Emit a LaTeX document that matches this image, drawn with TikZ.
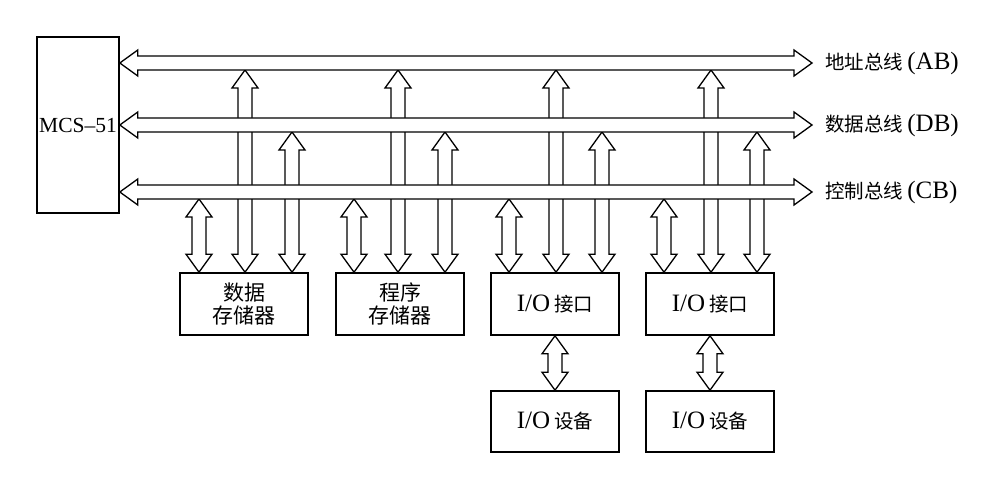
\documentclass[tikz,border=0pt]{standalone}
\usepackage{fontspec}
\setmainfont{Liberation Serif}
\newfontfamily\cjk{Noto Sans CJK SC}
\usetikzlibrary{calc}
\newcommand\zh[1]{{\cjk\fontsize{19.5}{24}\selectfont #1}}
\newcommand\zhbig[1]{{\cjk\fontsize{21}{24}\selectfont #1}}
\tikzset{
  hollow/.style={draw=black, fill=white, line width=1.3pt, line join=miter},
  box/.style={draw=black, line width=1.6pt, fill=white, minimum width=128pt,
    minimum height=62pt, inner sep=0pt, align=center,
    font=\fontsize{25}{24}\selectfont},
  buslabel/.style={anchor=west, inner sep=0pt, font=\fontsize{25}{24}\selectfont},
}
% vertical hollow double arrow: #1 x, #2 top coordinate, #3 bottom coordinate, #4 offset below top
\newcommand\vconn[4]{%
  \path[hollow] let \p1=(#2), \p2=(#3) in
    (#1pt,\y1-#4) -- (#1pt+13pt,\y1-#4-18pt) -- (#1pt+7pt,\y1-#4-18pt)
    -- (#1pt+7pt,\y2+18pt) -- (#1pt+13pt,\y2+18pt) -- (#1pt,\y2)
    -- (#1pt-13pt,\y2+18pt) -- (#1pt-7pt,\y2+18pt) -- (#1pt-7pt,\y1-#4-18pt)
    -- (#1pt-13pt,\y1-#4-18pt) -- cycle;}
% horizontal hollow double arrow (bus): #1 left tip, #2 right tip
\newcommand\hbus[2]{%
  \path[hollow] let \p1=(#1), \p2=(#2) in
    (\x1,\y1) -- (\x1+18pt,\y1+13pt) -- (\x1+18pt,\y1+7pt) -- (\x2-18pt,\y1+7pt)
    -- (\x2-18pt,\y1+13pt) -- (\x2,\y1) -- (\x2-18pt,\y1-13pt) -- (\x2-18pt,\y1-7pt)
    -- (\x1+18pt,\y1-7pt) -- (\x1+18pt,\y1-13pt) -- cycle;}
\begin{document}
\begin{tikzpicture}[x=1pt,y=-1pt]
\useasboundingbox[fill=white] (0,0) rectangle (982,489);

% bus centre lines
\coordinate (ab) at (500,63);
\coordinate (db) at (500,125);
\coordinate (cb) at (500,192);

% processor
\node[box, minimum width=82pt, minimum height=176pt, font=\fontsize{21.5}{24}\selectfont] (mcs) at (78,125) {MCS–51};

% memories and I/O
\node[box] (dmem) at (244,304) {\zhbig{数据}\\[-0.5pt]\zhbig{存储器}};
\node[box] (pmem) at (400,304) {\zhbig{程序}\\[-0.5pt]\zhbig{存储器}};
\node[box] (io1) at (555,304) {I/O\,\zh{接口}};
\node[box] (io2) at (710,304) {I/O\,\zh{接口}};
\node[box, minimum height=61pt] (dev1) at (555,421.5) {I/O\,\zh{设备}};
\node[box, minimum height=61pt] (dev2) at (710,421.5) {I/O\,\zh{设备}};

% bus labels
\node[buslabel] (abl) at (825,63) {\zh{地址总线}\,(AB)};
\node[buslabel] (dbl) at (825,125) {\zh{数据总线}\,(DB)};
\node[buslabel] (cbl) at (825,192) {\zh{控制总线}\,(CB)};

% bus tips
\coordinate (abL) at (mcs.east |- ab);
\coordinate (dbL) at (mcs.east |- db);
\coordinate (cbL) at (mcs.east |- cb);
\coordinate (abR) at (812,63);
\coordinate (dbR) at (812,125);
\coordinate (cbR) at (812,192);

% vertical connectors (drawn before the buses so that buses cover them)
\vconn{199}{cb}{dmem.north}{7pt}
\vconn{245}{ab}{dmem.north}{7pt}
\vconn{292}{db}{dmem.north}{7pt}
\vconn{354}{cb}{pmem.north}{7pt}
\vconn{398}{ab}{pmem.north}{7pt}
\vconn{445}{db}{pmem.north}{7pt}
\vconn{509}{cb}{io1.north}{7pt}
\vconn{556}{ab}{io1.north}{7pt}
\vconn{602}{db}{io1.north}{7pt}
\vconn{664}{cb}{io2.north}{7pt}
\vconn{711}{ab}{io2.north}{7pt}
\vconn{757}{db}{io2.north}{7pt}
\vconn{555}{io1.south}{dev1.north}{0pt}
\vconn{710}{io2.south}{dev2.north}{0pt}

% buses
\hbus{abL}{abR}
\hbus{dbL}{dbR}
\hbus{cbL}{cbR}
\end{tikzpicture}
\end{document}
